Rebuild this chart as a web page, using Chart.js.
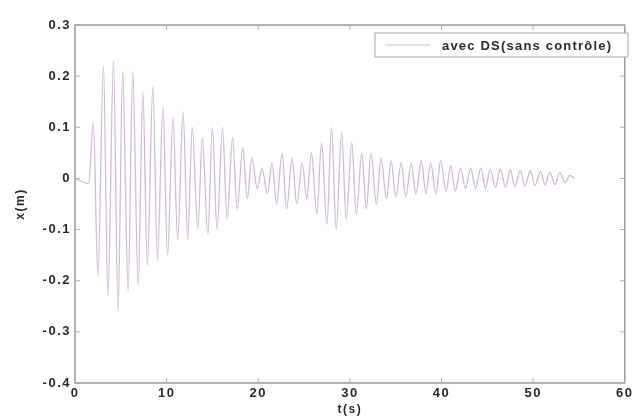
<!DOCTYPE html>
<html>
<head>
<meta charset="utf-8">
<script src="https://cdn.jsdelivr.net/npm/chart.js@4.4.1/dist/chart.umd.min.js"></script>
<style>
  html, body { margin: 0; padding: 0; background: #fff; }
  #wrap { width: 635px; height: 417px; }
</style>
</head>
<body>
<div id="wrap"><canvas id="myChart"></canvas></div>
<script>
// values (peaks of the oscillation)
const tSec = [0, 1.5, 2.0, 2.5, 3.1, 3.6, 4.2, 4.7, 5.2, 5.8, 6.3, 6.9, 7.4, 7.9, 8.5, 9.0, 9.6, 10.1, 10.7, 11.2,
  11.8, 12.3, 12.8, 13.4, 13.9, 14.5, 15.0, 15.5, 16.1, 16.6, 17.2, 17.7, 18.3, 18.8, 19.3, 19.9, 20.4, 21.0, 21.5, 22.0,
  22.6, 23.1, 23.7, 24.2, 24.8, 25.3, 25.8, 26.4, 26.9, 27.5, 28.0, 28.5, 29.1, 29.6, 30.2, 30.7, 31.3, 31.8, 32.3, 32.9,
  33.4, 34.0, 34.5, 35.0, 35.6, 36.1, 36.7, 37.2, 37.8, 38.3, 38.8, 39.4, 39.9, 40.5, 41.0, 41.5, 42.1, 42.6, 43.2, 43.7,
  44.3, 44.8, 45.3, 45.9, 46.4, 47.0, 47.5, 48.0, 48.6, 49.1, 49.7, 50.2, 50.8, 51.3, 51.8, 52.4, 52.9, 53.5, 54.0, 54.5];
const xMeters = [0, -0.01, 0.11, -0.19, 0.22, -0.23, 0.23, -0.26, 0.21, -0.22, 0.21, -0.21, 0.17, -0.17, 0.18, -0.16, 0.14, -0.15, 0.12, -0.12,
  0.13, -0.12, 0.10, -0.10, 0.08, -0.11, 0.10, -0.10, 0.10, -0.08, 0.08, -0.06, 0.06, -0.04, 0.04, -0.02, 0.02, -0.03, 0.03, -0.05,
  0.05, -0.06, 0.04, -0.05, 0.03, -0.04, 0.05, -0.07, 0.07, -0.09, 0.10, -0.10, 0.09, -0.08, 0.07, -0.07, 0.05, -0.06, 0.05, -0.05,
  0.04, -0.04, 0.035, -0.035, 0.03, -0.035, 0.03, -0.03, 0.035, -0.03, 0.03, -0.03, 0.035, -0.025, 0.025, -0.025, 0.02, -0.02, 0.02, -0.02,
  0.02, -0.02, 0.018, -0.018, 0.018, -0.017, 0.017, -0.016, 0.015, -0.015, 0.015, -0.014, 0.014, -0.013, 0.012, -0.012, 0.012, -0.008, 0.006, 0];
const xTicks = [0, 10, 20, 30, 40, 50, 60];
const yTicks = [0.3, 0.2, 0.1, 0, -0.1, -0.2, -0.3, -0.4];
const seriesName = "avec DS(sans contrôle)";

const lineColor = "rgb(205,188,210)";
const frameColor = "#9a9a9a";

let points = [];
for (let i = 0; i < tSec.length; i++) {
  points.push({ x: tSec[i], y: xMeters[i] });
}

// frame, inward ticks and the legend box, like a matlab figure
const matlabBox = {
  id: "matlabBox",
  beforeDraw(chart) {
    // the reference text is a bit stretched sideways
    chart.ctx.letterSpacing = "1.5px";
  },
  afterDraw(chart) {
    const ctx = chart.ctx;
    const a = chart.chartArea;
    const xs = chart.scales.x;
    const ys = chart.scales.y;
    ctx.save();
    ctx.strokeStyle = frameColor;
    ctx.lineWidth = 1.5;
    ctx.strokeRect(a.left, a.top, a.right - a.left, a.bottom - a.top);
    ctx.lineWidth = 1;
    ctx.strokeStyle = "#b0b0b0";
    ctx.beginPath();
    xTicks.forEach(v => {
      const px = xs.getPixelForValue(v);
      ctx.moveTo(px, a.bottom); ctx.lineTo(px, a.bottom - 5);
      ctx.moveTo(px, a.top); ctx.lineTo(px, a.top + 5);
    });
    yTicks.forEach(v => {
      const py = ys.getPixelForValue(v);
      ctx.moveTo(a.left, py); ctx.lineTo(a.left + 5, py);
      ctx.moveTo(a.right, py); ctx.lineTo(a.right - 5, py);
    });
    ctx.stroke();

    // legend
    const lx = 375, ly = 33, lw = 253, lh = 24;
    ctx.fillStyle = "#fff";
    ctx.fillRect(lx, ly, lw, lh);
    ctx.strokeStyle = "#a8a8a8";
    ctx.strokeRect(lx, ly, lw, lh);
    ctx.strokeStyle = lineColor;
    ctx.beginPath();
    ctx.moveTo(lx + 10, ly + lh / 2);
    ctx.lineTo(lx + 55, ly + lh / 2);
    ctx.stroke();
    ctx.fillStyle = "#2a2a2a";
    ctx.font = "bold 13px Arial";
    ctx.letterSpacing = "1.2px";
    ctx.textBaseline = "middle";
    ctx.textAlign = "left";
    ctx.fillText(chart.data.datasets[0].label, lx + 67, ly + lh / 2 + 1);
    ctx.restore();
    ctx.letterSpacing = "0px";
  }
};

const ctx = document.getElementById("myChart").getContext("2d");
const chart = new Chart(ctx, {
  type: "line",
  data: {
    datasets: [{
      label: seriesName,
      data: points,
      borderColor: lineColor,
      borderWidth: 1.3,
      pointRadius: 0,
      cubicInterpolationMode: "monotone",
      fill: false
    }]
  },
  options: {
    responsive: true,
    maintainAspectRatio: false,
    animation: false,
    layout: { padding: { top: 25, right: 5, left: 0, bottom: 0 } },
    plugins: { legend: { display: false }, tooltip: { enabled: false } },
    scales: {
      x: {
        type: "linear",
        min: 0, max: 60,
        afterBuildTicks: s => { s.ticks = xTicks.map(v => ({ value: v })); },
        afterFit: s => { s.height = 34; },
        grid: { display: false, drawTicks: false },
        border: { display: false },
        ticks: { padding: 3, color: "#2a2a2a", font: { family: "Arial", size: 13, weight: "bold" } },
        title: { display: true, text: "t(s)", color: "#2a2a2a", padding: { top: 0, bottom: 0 },
                 font: { family: "Arial", size: 12, weight: "bold" } }
      },
      y: {
        min: -0.4, max: 0.3,
        afterBuildTicks: s => { s.ticks = yTicks.map(v => ({ value: v })); },
        afterFit: s => { s.width = 75; },
        grid: { display: false, drawTicks: false },
        border: { display: false },
        ticks: { padding: 4, color: "#2a2a2a", font: { family: "Arial", size: 13, weight: "bold" },
                 callback: v => String(Math.round(v * 10) / 10) },
        title: { display: true, text: "x(m)", color: "#2a2a2a", padding: { top: 13, bottom: 0 },
                 font: { family: "Arial", size: 12, weight: "bold" } }
      }
    }
  },
  plugins: [matlabBox]
});
</script>
</body>
</html>
